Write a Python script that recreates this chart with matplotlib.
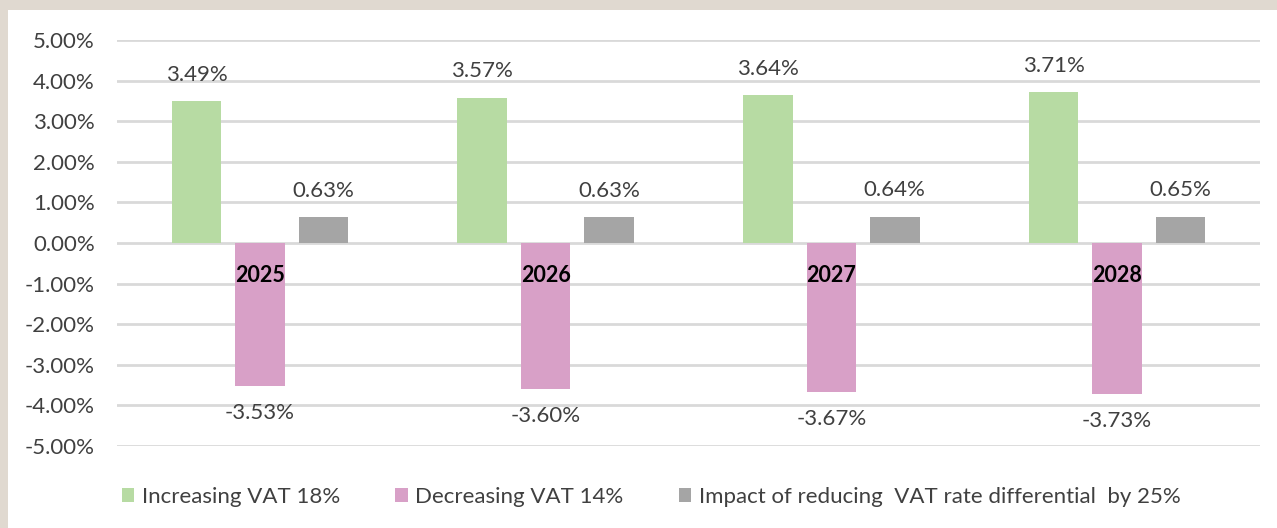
import numpy as np
import matplotlib.pyplot as plt
from matplotlib.patches import Rectangle

# data
years = ["2025", "2026", "2027", "2028"]
increasing = [3.49, 3.57, 3.64, 3.71]
decreasing = [-3.53, -3.60, -3.67, -3.73]
impact = [0.63, 0.63, 0.64, 0.65]
series_names = ["Increasing VAT 18%", "Decreasing VAT 14%",
                "Impact of reducing  VAT rate differential  by 25%"]
colors = ["#b7dba3", "#d8a0c7", "#a5a5a5"]

plt.rcParams['font.family'] = ['Lato', 'DejaVu Sans']
txt = "#404040"
fs = 16

fig = plt.figure(figsize=(12.77, 5.28), dpi=100)
fig.patch.set_facecolor("#e0d9d0")
fig.patches.append(Rectangle((8 / 1277, 0), 1, 1 - 10 / 528, transform=fig.transFigure,
                             facecolor="white", edgecolor="none", zorder=-5))

ax = fig.add_axes([117 / 1277, 1 - 446 / 528, (1260 - 117) / 1277, (446 - 40) / 528])
ax.set_zorder(2)
ax.set_facecolor("none")

x = np.arange(len(years))
w = 0.173
step = 0.222
for i, (vals, c, name) in enumerate(zip([increasing, decreasing, impact], colors, series_names)):
    bars = ax.bar(x + (i - 1) * step, vals, width=w, color=c, label=name, zorder=3)
    for b, v in zip(bars, vals):
        off = 12 if v >= 0 else -12
        ax.annotate(f"{v:.2f}%", (b.get_x() + b.get_width() / 2, v),
                    xytext=(0, off), textcoords="offset points",
                    ha="center", va="bottom" if v >= 0 else "top",
                    fontsize=fs, color=txt)

# year labels sit just under the zero line, over the bars
for xi, yr in zip(x, years):
    ax.annotate(yr, (xi, 0), xytext=(0, -16), textcoords="offset points",
                ha="center", va="top", fontsize=fs - 0.5, fontweight="bold",
                color="black", zorder=5)

ax.set_xlim(-0.5, len(years) - 0.5)
ax.set_ylim(-5, 5)
ax.set_yticks(np.arange(-5, 5.1, 1))
ax.set_yticklabels([f"{v:.2f}%" for v in np.arange(-5, 5.1, 1)], fontsize=fs, color=txt)
ax.yaxis.grid(True, color="#d9d9d9", linewidth=2, zorder=0)
ax.tick_params(axis="y", length=0, pad=16)
ax.set_xticks([])
for s in ax.spines.values():
    s.set_visible(False)

fig.legend(loc="center", bbox_to_anchor=(0.51, 1 - 497 / 528), ncol=3, frameon=False,
           fontsize=fs, handlelength=0.55, handleheight=0.55, handletextpad=0.35,
           columnspacing=2.5, labelcolor=txt)

fig.savefig("out.png", dpi=100, facecolor=fig.get_facecolor())
